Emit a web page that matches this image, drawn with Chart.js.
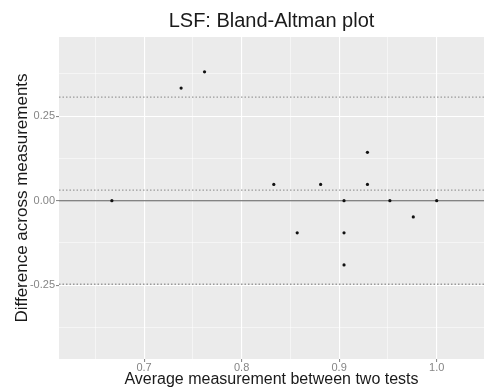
<!DOCTYPE html>
<html>
<head>
<meta charset="utf-8">
<script src="https://cdn.jsdelivr.net/npm/chart.js@4.4.1/dist/chart.umd.min.js"></script>
<style>
  html, body { margin: 0; padding: 0; background: #ffffff; }
  #wrap { width: 484px; height: 388px; }
</style>
</head>
<body>
<div id="wrap"><canvas id="c" width="484" height="388"></canvas></div>
<script>
// ---- data ----
const avgMeasurement = [0.667, 0.738, 0.762, 0.833, 0.857, 0.881, 0.905, 0.905, 0.905, 0.929, 0.929, 0.952, 0.976, 1.000];
const diffMeasurement = [0.000, 0.333, 0.381, 0.048, -0.095, 0.048, 0.000, -0.095, -0.190, 0.143, 0.048, 0.000, -0.048, 0.000];
const limitValues = [0.306, 0.031, -0.247];   // upper LoA, mean difference, lower LoA
const zeroValue = [0];
const xTickValues = [0.65, 0.7, 0.75, 0.8, 0.85, 0.9, 0.95, 1.0];
const xTickLabels = ['', '0.7', '', '0.8', '', '0.9', '', '1.0'];
const yTickValues = [-0.375, -0.25, -0.125, 0, 0.125, 0.25, 0.375];
const yTickLabels = ['', '-0.25', '', '0.00', '', '0.25', ''];
const xRange = [0.6128, 1.0485];
const yRange = [-0.468, 0.484];

const FONT = '"Liberation Sans", Arial, Helvetica, sans-serif';

const points = avgMeasurement.map((x, i) => ({ x: x, y: diffMeasurement[i] }));
const hLine = v => [{ x: xRange[0], y: v }, { x: xRange[1], y: v }];

const panelBg = {
  id: 'panelBg',
  beforeDraw(chart) {
    const { ctx, chartArea: a } = chart;
    ctx.save();
    ctx.fillStyle = '#EBEBEB';
    ctx.fillRect(a.left, a.top, a.right - a.left, a.bottom - a.top);
    ctx.restore();
  }
};

const isMajor = (vals, labels, v) => {
  const i = vals.findIndex(t => Math.abs(t - v) < 1e-9);
  return i >= 0 && labels[i] !== '';
};

const datasets = [
  {
    type: 'scatter',
    label: 'points',
    data: points,
    backgroundColor: '#111111',
    borderColor: '#111111',
    pointRadius: 1.6,
    pointBorderWidth: 0,
    order: 0
  },
  {
    type: 'line',
    label: 'zero',
    data: hLine(zeroValue[0]),
    borderColor: '#5a5a5a',
    borderWidth: 1.1,
    pointRadius: 0,
    order: 2
  }
];
limitValues.forEach((v, i) => {
  datasets.push({
    type: 'line',
    label: 'limit' + i,
    data: hLine(v),
    borderColor: '#9a9a9a',
    borderWidth: 1.3,
    borderDash: [1.5, 2],
    pointRadius: 0,
    order: 1
  });
});

new Chart(document.getElementById('c'), {
  data: { datasets: datasets },
  plugins: [panelBg],
  options: {
    responsive: false,
    animation: false,
    layout: { autoPadding: false, padding: { left: 0, right: 0, top: 0, bottom: 0 } },
    plugins: {
      legend: { display: false },
      tooltip: { enabled: false },
      title: {
        display: true,
        text: 'LSF: Bland-Altman plot',
        fullSize: false,
        color: '#1a1a1a',
        font: { family: FONT, size: 20, weight: 'normal', lineHeight: 1.2 },
        padding: { top: 9, bottom: 4 }
      }
    },
    scales: {
      x: {
        type: 'linear',
        min: xRange[0],
        max: xRange[1],
        afterBuildTicks(scale) { scale.ticks = xTickValues.map(v => ({ value: v })); },
        afterFit(scale) { scale.height = 29; scale.paddingLeft = 0; scale.paddingRight = 0; },
        border: { display: false },
        grid: {
          color: '#ffffff',
          lineWidth: ctx => isMajor(xTickValues, xTickLabels, ctx.tick.value) ? 1.1 : 0.5,
          tickColor: ctx => isMajor(xTickValues, xTickLabels, ctx.tick.value) ? '#8a8a8a' : 'rgba(0,0,0,0)',
          tickLength: 3,
          drawTicks: true
        },
        ticks: {
          autoSkip: false,
          maxRotation: 0,
          padding: -1,
          color: '#858585',
          font: { family: FONT, size: 11 },
          callback: (v) => {
            const i = xTickValues.findIndex(t => Math.abs(t - v) < 1e-9);
            return i >= 0 ? xTickLabels[i] : '';
          }
        },
        title: {
          display: true,
          text: 'Average measurement between two tests',
          color: '#1a1a1a',
          font: { family: FONT, size: 16, lineHeight: 1.2 },
          padding: { top: 0, bottom: -1 }
        }
      },
      y: {
        type: 'linear',
        min: yRange[0],
        max: yRange[1],
        afterBuildTicks(scale) { scale.ticks = yTickValues.map(v => ({ value: v })); },
        afterFit(scale) { scale.width = 59; scale.paddingTop = 0; scale.paddingBottom = 0; },
        border: { display: false },
        grid: {
          color: '#ffffff',
          lineWidth: ctx => isMajor(yTickValues, yTickLabels, ctx.tick.value) ? 1.1 : 0.5,
          tickColor: ctx => isMajor(yTickValues, yTickLabels, ctx.tick.value) ? '#8a8a8a' : 'rgba(0,0,0,0)',
          tickLength: 3,
          drawTicks: true
        },
        ticks: {
          autoSkip: false,
          padding: 1,
          color: '#858585',
          font: { family: FONT, size: 11 },
          callback: (v) => {
            const i = yTickValues.findIndex(t => Math.abs(t - v) < 1e-9);
            return i >= 0 ? yTickLabels[i] : '';
          }
        },
        title: {
          display: true,
          text: 'Difference across measurements',
          color: '#1a1a1a',
          font: { family: FONT, size: 17, lineHeight: 1.2 },
          padding: { top: 12, bottom: 0 }
        }
      }
    }
  }
});
</script>
</body>
</html>
